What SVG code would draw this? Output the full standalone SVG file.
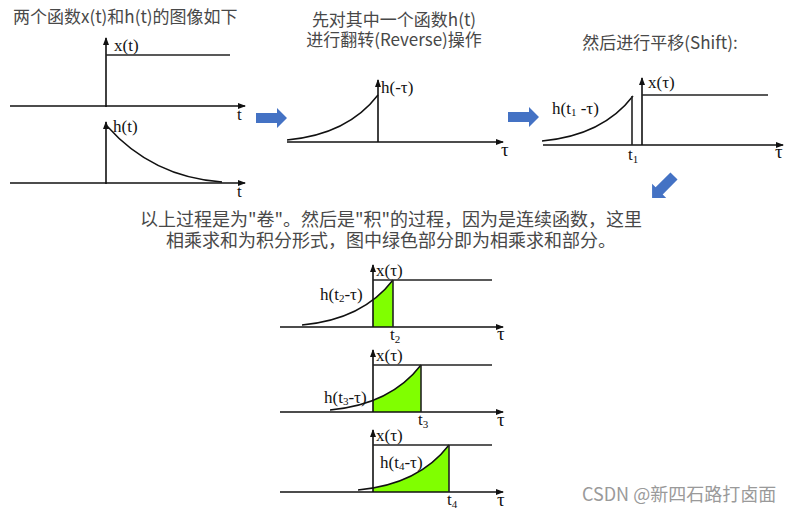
<svg xmlns="http://www.w3.org/2000/svg" xmlns:xlink="http://www.w3.org/1999/xlink" width="799" height="514" viewBox="0 0 799 514">
<style>
.cn{font-family:"Noto Sans CJK SC","Noto Sans",sans-serif;font-size:17px;fill:#484848}
.para{font-size:18px}
.lb{font-family:"Liberation Serif",serif;font-size:17px;fill:#111}
.tau{font-size:19px}
.sub{font-size:11px}
.ax{stroke:#111;stroke-width:1.6;fill:none;marker-end:url(#ah)}
.ln{stroke:#222;stroke-width:1.6;fill:none}
.cv{stroke:#111;stroke-width:1.5;fill:none}
.grn{fill:#80FF00}
.blue{fill:#4472C4}
.wm{font-family:"Noto Sans CJK SC","Noto Sans",sans-serif;font-size:18px;fill:#9a9a9a}
</style>
<defs>
<marker id="ah" markerUnits="userSpaceOnUse" markerWidth="10" markerHeight="8" refX="7" refY="3" orient="auto">
<path d="M0,0 L8,3 L0,6 Z" fill="#111"/>
</marker>
<path id="hrev" d="M287,140 C320,137 355,125 378,95"/>
<path id="hfill" d="M287,142 L287,140 C320,137 355,125 378,95 L378,142 Z"/>
<path id="barrow" d="M0,-5 H21 V-10 L31,0 L21,10 V5 H0 Z"/>
<clipPath id="right"><rect x="373" y="0" width="200" height="514"/></clipPath>
</defs>
<rect width="799" height="514" fill="#fff"/>

<g id="title-left">
<text class="cn" x="13" y="23">两个函数x(t)和h(t)的图像如下</text>
</g>

<g id="plot-xt">
<path class="ax" d="M10,106 H245"/>
<path class="ax" d="M106,107 V38"/>
<path class="ln" d="M106,55 H230"/>
<text class="lb" x="114" y="51">x(t)</text>
<text class="lb" x="237" y="120">t</text>
</g>

<g id="plot-ht">
<path class="ax" d="M10,183 H245"/>
<path class="ax" d="M106,184 V122"/>
<path class="cv" d="M107,126 C130,152 165,178 222,182"/>
<text class="lb" x="113" y="132">h(t)</text>
<text class="lb" x="237" y="197">t</text>
</g>

<g id="title-reverse">
<text class="cn" x="394" y="26" text-anchor="middle">先对其中一个函数h(t)</text>
<text class="cn" x="394" y="46" text-anchor="middle">进行翻转(Reverse)操作</text>
</g>

<g id="plot-reverse">
<path class="ax" d="M287,142 H503"/>
<path class="ax" d="M378,142 V80"/>
<use href="#hrev" class="cv"/>
<text class="lb" x="381" y="93">h(-τ)</text>
<text class="lb tau" x="501" y="156">τ</text>
</g>

<g id="title-shift">
<text class="cn" x="660" y="49" text-anchor="middle">然后进行平移(Shift):</text>
</g>

<g id="plot-shift">
<path class="ax" d="M543,145 H783"/>
<path class="ax" d="M642,145 V78"/>
<path class="ln" d="M642,95 H768"/>
<use href="#hrev" class="cv" transform="translate(255,1)"/>
<path class="ln" d="M632,96 V145"/>
<text class="lb" x="552" y="114">h(t<tspan class="sub" dy="2">1</tspan><tspan dy="-2"> -τ)</tspan></text>
<text class="lb" x="648" y="88">x(τ)</text>
<text class="lb" x="628" y="160">t<tspan class="sub" dy="3">1</tspan></text>
<text class="lb tau" x="775" y="158">τ</text>
</g>

<g id="caption">
<text class="cn para" x="391" y="226" text-anchor="middle">以上过程是为"卷"。然后是"积"的过程，因为是连续函数，这里</text>
<text class="cn para" x="391" y="247" text-anchor="middle">相乘求和为积分形式，图中绿色部分即为相乘求和部分。</text>
</g>

<g id="plot-t2">
<g clip-path="url(#right)"><use href="#hfill" class="grn" transform="translate(15,185)"/></g>
<path class="ax" d="M280,327 H503"/>
<path class="ax" d="M373,327 V265"/>
<path class="ln" d="M373,280 H492"/>
<use href="#hrev" class="cv" transform="translate(15,185)"/>
<path class="ln" d="M393,280 V327"/>
<text class="lb" x="376" y="276">x(τ)</text>
<text class="lb" x="320" y="300">h(t<tspan class="sub" dy="2">2</tspan><tspan dy="-2">-τ)</tspan></text>
<text class="lb" x="390" y="340">t<tspan class="sub" dy="3">2</tspan></text>
<text class="lb tau" x="497" y="340">τ</text>
</g>

<g id="plot-t3">
<g clip-path="url(#right)"><use href="#hfill" class="grn" transform="translate(43,270)"/></g>
<path class="ax" d="M280,412 H503"/>
<path class="ax" d="M373,412 V350"/>
<path class="ln" d="M373,365 H492"/>
<use href="#hrev" class="cv" transform="translate(43,270)"/>
<path class="ln" d="M421,365 V412"/>
<text class="lb" x="376" y="361">x(τ)</text>
<text class="lb" x="324" y="403">h(t<tspan class="sub" dy="2">3</tspan><tspan dy="-2">-τ)</tspan></text>
<text class="lb" x="418" y="425">t<tspan class="sub" dy="3">3</tspan></text>
<text class="lb tau" x="497" y="426">τ</text>
</g>

<g id="plot-t4">
<g clip-path="url(#right)"><use href="#hfill" class="grn" transform="translate(71,350)"/></g>
<path class="ax" d="M280,492 H503"/>
<path class="ax" d="M373,492 V430"/>
<path class="ln" d="M373,445 H492"/>
<use href="#hrev" class="cv" transform="translate(71,350)"/>
<path class="ln" d="M449,445 V492"/>
<text class="lb" x="376" y="441">x(τ)</text>
<text class="lb" x="380" y="468">h(t<tspan class="sub" dy="2">4</tspan><tspan dy="-2">-τ)</tspan></text>
<text class="lb" x="447" y="505">t<tspan class="sub" dy="3">4</tspan></text>
<text class="lb tau" x="497" y="506">τ</text>
</g>

<g id="connectors">
<use href="#barrow" class="blue" transform="translate(256,118)"/>
<use href="#barrow" class="blue" transform="translate(508,117)"/>
<use href="#barrow" class="blue" transform="translate(674,176) rotate(135)"/>
</g>

<g id="watermark">
<text class="wm" x="582" y="501">CSDN @新四石路打卤面</text>
</g>
</svg>
